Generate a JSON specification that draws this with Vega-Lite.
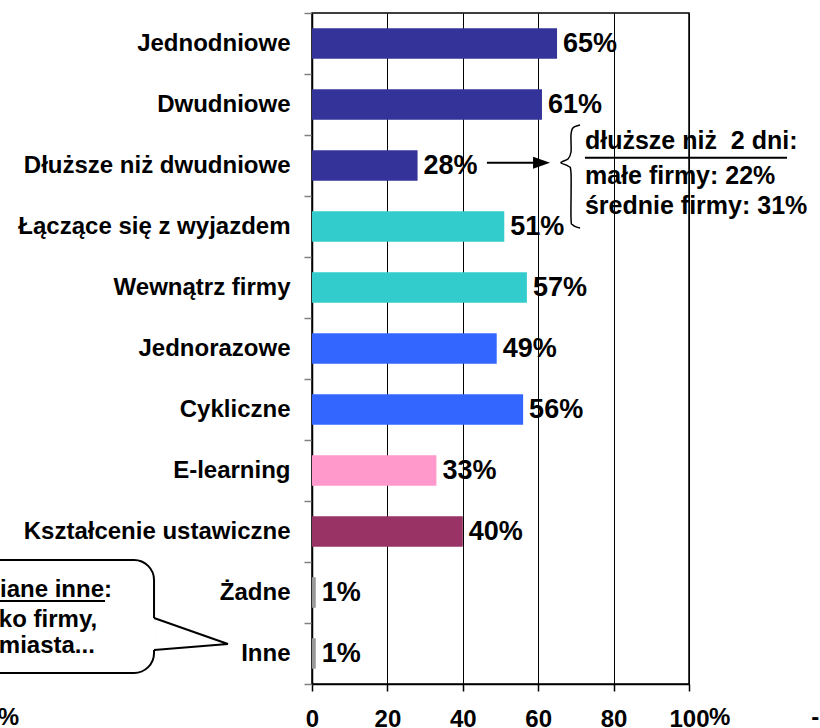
{
  "$schema": "https://vega.github.io/schema/vega-lite/v6.json",
  "width": 377,
  "height": 671,
  "autosize": {"type": "none"},
  "padding": {"left": 312, "top": 13, "right": 131, "bottom": 44},
  "background": "white",
  "config": {
    "view": {"stroke": "black", "strokeWidth": 1.5},
    "font": "Liberation Sans",
    "text": {"font": "Liberation Sans", "fontWeight": "bold", "color": "black"}
  },
  "datasets": {
    "bars": [
      {"k": "Jednodniowe", "x": 65, "g": "a", "lbl": "65%"},
      {"k": "Dwudniowe", "x": 61, "g": "a", "lbl": "61%"},
      {"k": "Dłuższe niż dwudniowe", "x": 28, "g": "a", "lbl": "28%"},
      {"k": "Łączące się z wyjazdem", "x": 51, "g": "b", "lbl": "51%"},
      {"k": "Wewnątrz firmy", "x": 57, "g": "b", "lbl": "57%"},
      {"k": "Jednorazowe", "x": 49, "g": "c", "lbl": "49%"},
      {"k": "Cykliczne", "x": 56, "g": "c", "lbl": "56%"},
      {"k": "E-learning", "x": 33, "g": "d", "lbl": "33%"},
      {"k": "Kształcenie ustawiczne", "x": 40, "g": "e", "lbl": "40%"},
      {"k": "Żadne", "x": 1, "g": "f", "lbl": "1%"},
      {"k": "Inne", "x": 1, "g": "f", "lbl": "1%"}
    ],
    "bubble": [{"x": -95, "x2": -41.9, "y": 8.967, "y2": 10.82}],
    "cover": [{"x": -41.9, "y": 9.918, "y2": 10.443}],
    "pointer": [
      {"x": -41.9, "y": 9.918, "o": 1},
      {"x": -22.3, "y": 10.344, "o": 2},
      {"x": -41.9, "y": 10.443, "o": 3}
    ],
    "bubbleText": [
      {"x": -53.05, "y": 9.574, "t": "iane inne:"},
      {"x": -57.0, "y": 10.066, "t": "ko firmy,"},
      {"x": -57.6, "y": 10.492, "t": "miasta..."}
    ],
    "bubbleUnder": [{"x": -95, "x2": -54.9, "y": 9.639}],
    "arrow": [{"x": 46.4, "x2": 59.5, "y": 2.454}],
    "arrowHead": [{"x": 60.9, "y": 2.454}],
    "brace": [
      {"x": 71.1, "y": 1.836, "o": 1},
      {"x": 69.2, "y": 1.885, "o": 2},
      {"x": 68.7, "y": 2.0, "o": 3},
      {"x": 68.7, "y": 2.279, "o": 4},
      {"x": 67.9, "y": 2.393, "o": 5},
      {"x": 66.0, "y": 2.454, "o": 6},
      {"x": 67.9, "y": 2.508, "o": 7},
      {"x": 68.7, "y": 2.623, "o": 8},
      {"x": 68.7, "y": 3.361, "o": 9},
      {"x": 69.2, "y": 3.475, "o": 10},
      {"x": 71.1, "y": 3.525, "o": 11}
    ],
    "rightText": [
      {"x": 72.4, "y": 2.23, "t": "dłuższe niż\u00a0 2 dni:"},
      {"x": 72.4, "y": 2.803, "t": "małe firmy: 22%"},
      {"x": 72.4, "y": 3.295, "t": "średnie firmy: 31%"}
    ],
    "rightUnder": [{"x": 72.4, "x2": 126.0, "y": 2.372}],
    "pct": [{"x": 100, "y": 11.68, "t": "%"}],
    "edgeLeft": [{"x": -77.7, "y": 11.68, "t": "%"}],
    "edgeRight": [{"x": 132.4, "y": 11.68, "t": "-"}]
  },
  "encoding": {
    "x": {
      "field": "x",
      "type": "quantitative",
      "scale": {"domain": [0, 100], "nice": false},
      "axis": {
        "values": [0, 20, 40, 60, 80, 100],
        "title": null,
        "grid": true,
        "gridColor": "black",
        "gridWidth": 1,
        "gridOpacity": 1,
        "domainColor": "black",
        "domainWidth": 1.5,
        "tickColor": "black",
        "tickWidth": 1.5,
        "tickSize": 7,
        "labelFont": "Liberation Sans",
        "labelFontSize": 24,
        "labelFontWeight": "bold",
        "labelColor": "black",
        "labelPadding": 16,
        "labelFlush": false,
        "labelOverlap": false
      }
    }
  },
  "layer": [
    {
      "data": {"name": "bars"},
      "encoding": {
        "y": {
          "field": "k",
          "type": "nominal",
          "sort": null,
          "scale": {"paddingInner": 0, "paddingOuter": 0},
          "axis": {
            "title": null,
            "bandPosition": 1,
            "tickExtra": true,
            "tickSize": 8,
            "tickColor": "#808080",
            "tickWidth": 1.5,
            "domainColor": "black",
            "domainWidth": 1.5,
            "labelFont": "Liberation Sans",
            "labelFontSize": 24,
            "labelFontWeight": "bold",
            "labelColor": "black",
            "labelPadding": 14,
            "labelLimit": 400
          }
        }
      },
      "layer": [
        {
          "mark": {"type": "bar", "height": {"band": 0.5}},
          "encoding": {
            "color": {
              "field": "g",
              "type": "nominal",
              "scale": {
                "domain": ["a", "b", "c", "d", "e", "f"],
                "range": ["#333399", "#33CCCC", "#3366FF", "#FF99CC", "#993366", "#999999"]
              },
              "legend": null
            }
          }
        },
        {
          "mark": {"type": "text", "align": "left", "baseline": "middle", "dx": 6, "fontSize": 27, "fontWeight": "bold"},
          "encoding": {"text": {"field": "lbl"}}
        }
      ]
    },
    {
      "encoding": {
        "y": {
          "field": "y",
          "type": "quantitative",
          "scale": {"domain": [0, 11], "reverse": true, "nice": false, "zero": false},
          "axis": null
        }
      },
      "layer": [
        {
          "data": {"name": "bubble"},
          "mark": {"type": "rect", "cornerRadius": 20, "fill": "white", "stroke": "black", "strokeWidth": 2},
          "encoding": {"x2": {"field": "x2"}, "y2": {"field": "y2"}}
        },
        {
          "data": {"name": "cover"},
          "mark": {"type": "rule", "color": "white", "strokeWidth": 3},
          "encoding": {"y2": {"field": "y2"}}
        },
        {
          "data": {"name": "pointer"},
          "mark": {"type": "line", "color": "black", "strokeWidth": 2},
          "encoding": {"order": {"field": "o", "type": "quantitative"}}
        },
        {
          "data": {"name": "bubbleText"},
          "mark": {"type": "text", "align": "right", "baseline": "alphabetic", "fontSize": 24, "fontWeight": "bold"},
          "encoding": {"text": {"field": "t"}}
        },
        {
          "data": {"name": "bubbleUnder"},
          "mark": {"type": "rule", "color": "black", "strokeWidth": 2},
          "encoding": {"x2": {"field": "x2"}}
        },
        {
          "data": {"name": "arrow"},
          "mark": {"type": "rule", "color": "black", "strokeWidth": 2},
          "encoding": {"x2": {"field": "x2"}}
        },
        {
          "data": {"name": "arrowHead"},
          "mark": {"type": "point", "shape": "M-1,-0.7L1,0L-1,0.7Z", "size": 289, "filled": true, "color": "black", "opacity": 1},
          "encoding": {}
        },
        {
          "data": {"name": "brace"},
          "mark": {"type": "line", "color": "black", "strokeWidth": 1.5, "interpolate": "cardinal"},
          "encoding": {"order": {"field": "o", "type": "quantitative"}}
        },
        {
          "data": {"name": "rightText"},
          "mark": {"type": "text", "align": "left", "baseline": "alphabetic", "fontSize": 25, "fontWeight": "bold"},
          "encoding": {"text": {"field": "t"}}
        },
        {
          "data": {"name": "rightUnder"},
          "mark": {"type": "rule", "color": "black", "strokeWidth": 2},
          "encoding": {"x2": {"field": "x2"}}
        },
        {
          "data": {"name": "pct"},
          "mark": {"type": "text", "align": "left", "baseline": "alphabetic", "dx": 20, "fontSize": 24, "fontWeight": "bold"},
          "encoding": {"text": {"field": "t"}}
        },
        {
          "data": {"name": "edgeLeft"},
          "mark": {"type": "text", "align": "right", "baseline": "alphabetic", "fontSize": 24, "fontWeight": "bold"},
          "encoding": {"text": {"field": "t"}}
        },
        {
          "data": {"name": "edgeRight"},
          "mark": {"type": "text", "align": "left", "baseline": "alphabetic", "fontSize": 24, "fontWeight": "bold"},
          "encoding": {"text": {"field": "t"}}
        }
      ]
    }
  ],
  "resolve": {"scale": {"y": "independent"}}
}
